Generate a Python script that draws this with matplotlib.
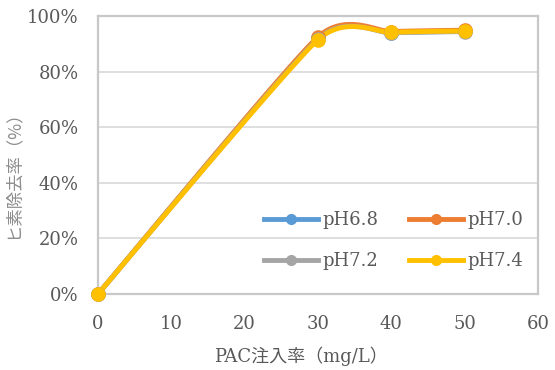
import numpy as np
import matplotlib
matplotlib.use('Agg')
from matplotlib import pyplot as plt

# data
pac = [0, 30, 40, 50]  # PAC注入率 (mg/L)
series_names = ['pH6.8', 'pH7.0', 'pH7.2', 'pH7.4']
ph68 = [0.0, 0.920, 0.940, 0.945]
ph70 = [0.0, 0.925, 0.944, 0.949]
ph72 = [0.0, 0.918, 0.939, 0.944]
ph74 = [0.0, 0.915, 0.941, 0.946]
colors = ['#5B9BD5', '#ED7D31', '#A5A5A5', '#FFC000']

serif = ['DejaVu Serif', 'Noto Sans CJK JP']
tick_col = '#595959'
line_col = '#C8C8C8'


def smooth(xs, ys, s=0.095, n=40):
    # Excel-like smoothed line: cubic bezier between points
    p = np.column_stack([xs, ys]).astype(float)
    # work in plot pixel proportions so tangents match the aspect
    scale = np.array([440 / 60.0, 278.0])
    q = p * scale
    out = [q[0]]
    for i in range(len(q) - 1):
        p0 = q[i - 1] if i > 0 else q[i]
        p1, p2 = q[i], q[i + 1]
        p3 = q[i + 2] if i + 2 < len(q) else q[i + 1]
        c1 = p1 + (p2 - p0) * s
        c2 = p2 - (p3 - p1) * s
        t = np.linspace(0, 1, n)[1:, None]
        seg = ((1 - t) ** 3) * p1 + 3 * ((1 - t) ** 2) * t * c1 + 3 * (1 - t) * t ** 2 * c2 + t ** 3 * p2
        out.extend(seg)
    out = np.array(out) / scale
    return out[:, 0], out[:, 1]


fig = plt.figure(figsize=(5.55, 3.70), dpi=100)
ax = fig.add_axes([98 / 555, 1 - 294 / 370, 440 / 555, 278 / 370])

handles = []
for vals, name, col in zip([ph68, ph70, ph72, ph74], series_names, colors):
    sx, sy = smooth(pac, vals)
    ax.plot(sx, sy, color=col, lw=3.5, solid_capstyle='round', zorder=3, clip_on=False)
    ax.plot(pac, vals, 'o', color=col, ms=9.5, zorder=4, clip_on=False)
    # legend proxy
    h, = ax.plot([], [], '-o', color=col, lw=3.5, ms=7, label=name)
    handles.append(h)

ax.set_xlim(0, 60)
ax.set_ylim(0, 1.0)
ax.set_xticks(range(0, 61, 10))
ax.set_yticks(np.arange(0, 1.01, 0.2))
ax.set_yticklabels([f'{int(round(v * 100))}%' for v in np.arange(0, 1.01, 0.2)])

ax.grid(axis='y', color='#D9D9D9', lw=1.2, zorder=0)
ax.set_axisbelow(True)
for sp in ax.spines.values():
    sp.set_color(line_col)
    sp.set_linewidth(1.6)

ax.tick_params(length=0, colors=tick_col, labelsize=13)
ax.tick_params(axis='y', pad=14)
ax.tick_params(axis='x', pad=15)
for lab in ax.get_xticklabels() + ax.get_yticklabels():
    lab.set_family(serif)

ax.set_xlabel('PAC注入率（mg/L）', family=serif, fontsize=13, color=tick_col)
ax.xaxis.set_label_coords(0.461, -0.19)
ax.set_ylabel('ヒ素除去率（%）', family=['Noto Sans CJK JP', 'DejaVu Sans'], fontsize=12.5, color='#8C8C8C')
ax.yaxis.set_label_coords(-0.173, 0.446)

# row-wise order like the reference: 6.8 7.0 / 7.2 7.4
order = [0, 2, 1, 3]
leg = ax.legend([handles[i] for i in order], [series_names[i] for i in order],
                loc='center', bbox_to_anchor=(0.672, 0.192), ncol=2, frameon=False,
                prop={'family': serif, 'size': 13}, labelcolor=tick_col,
                handlelength=3.0, handletextpad=0.25, columnspacing=1.7, labelspacing=1.25)

fig.savefig('out.png', dpi=100, facecolor='white')
